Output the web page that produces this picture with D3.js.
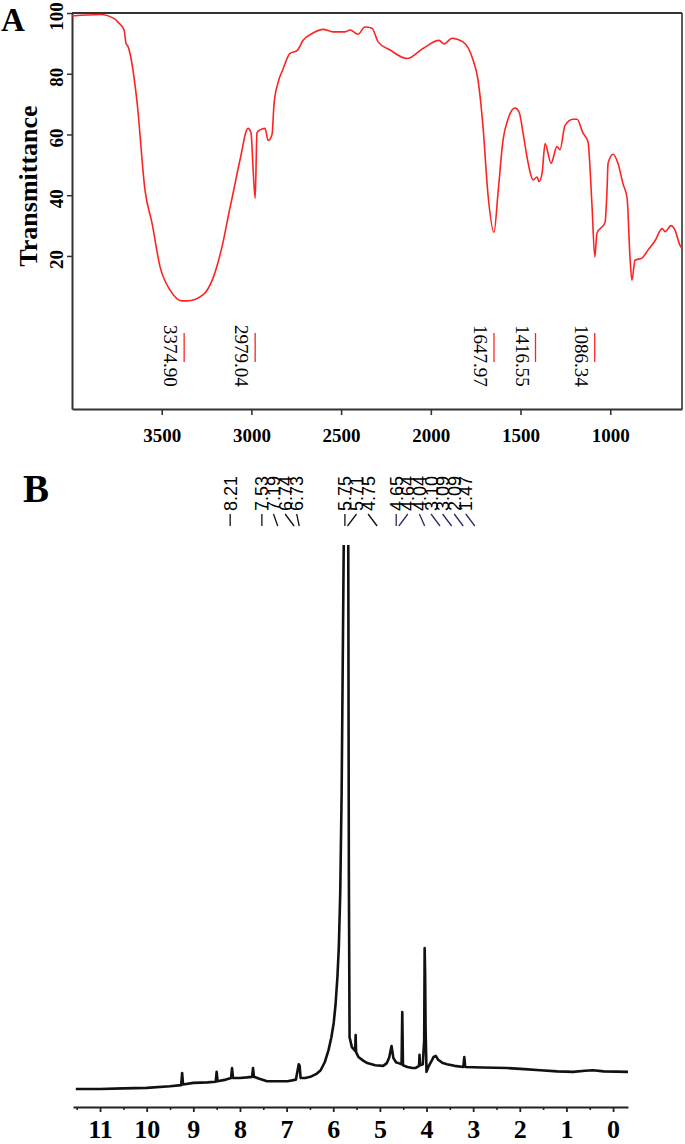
<!DOCTYPE html>
<html>
<head>
<meta charset="utf-8">
<script src="https://cdn.jsdelivr.net/npm/d3@7"></script>
<style>
  body { margin: 0; background: #fff; }
  svg { display: block; }
</style>
</head>
<body>
<script>
// ---- data ----

// panel A : FT-IR spectrum
var irWavenumber = [4000, 3844, 3760, 3744, 3710, 3699, 3688, 3638, 3593, 3554, 3509, 3454, 3387, 3359, 3270, 3214, 3164, 3119, 3108, 3064, 3019, 3002, 2991, 2979, 2969, 2952, 2924, 2907, 2885, 2874, 2852, 2824, 2785, 2746, 2712, 2657, 2601, 2545, 2478, 2450, 2406, 2367, 2328, 2294, 2227, 2133, 2044, 1954, 1926, 1882, 1821, 1765, 1737, 1709, 1681, 1648, 1625, 1598, 1570, 1531, 1508, 1486, 1464, 1447, 1430, 1408, 1397, 1380, 1363, 1330, 1297, 1280, 1252, 1207, 1185, 1152, 1124, 1102, 1086, 1074, 1029, 1018, 1012, 984, 957, 929, 906, 890, 879, 862, 823, 789, 750, 711, 694, 661, 639, 611, 600];
var irTransmittance = [99, 99.5, 98, 97, 94.5, 90, 89, 71, 41.6, 30.8, 16.4, 8.8, 5.2, 5.2, 7.2, 12.7, 23, 36, 39, 51.5, 62, 60.5, 49, 39, 60.5, 61.5, 62, 58, 60, 70, 77, 81.5, 86.7, 87.6, 91, 93.4, 94.6, 93.8, 93.8, 94.4, 93, 95.4, 95, 90.5, 87.8, 85, 88.3, 91, 89.8, 91.7, 90.5, 84.6, 78, 62.5, 40, 27.8, 41, 58, 65, 68.7, 67.4, 60.5, 52.6, 47.7, 45, 46, 44.5, 47.2, 57, 50.5, 56, 55, 63, 65, 65, 60.5, 57.6, 37, 19.7, 27.5, 31, 41.6, 50.5, 53.5, 50.5, 43.8, 39, 19.7, 12, 18.6, 19.3, 22, 25, 29, 28, 30, 28.5, 23.5, 22.5];
var irPeaks = [3374.90, 2979.04, 1647.97, 1416.55, 1086.34];
var irXTicks = [3500, 3000, 2500, 2000, 1500, 1000];
var irYTicks = [20, 40, 60, 80, 100];

// panel B : 1H NMR spectrum
var nmrPpm = [11.52, 11.0, 10.5, 10.0, 9.5, 9.26, 9.24, 9.22, 9.0, 8.7, 8.52, 8.50, 8.48, 8.3, 8.19, 8.17, 8.15, 8.0, 7.85, 7.74, 7.72, 7.70, 7.6, 7.42, 7.2, 6.98, 6.80, 6.74, 6.72, 6.70, 6.6, 6.49, 6.35, 6.27, 6.18, 6.10, 6.04, 5.99, 5.95, 5.91, 5.88, 5.85, 5.82, 5.79, 5.76, 5.73, 5.70, 5.68, 5.665, 5.65, 5.60, 5.53, 5.52, 5.51, 5.46, 5.35, 5.27, 5.1, 4.93, 4.85, 4.80, 4.75, 4.71, 4.65, 4.60, 4.535, 4.52, 4.505, 4.41, 4.30, 4.24, 4.16, 4.15, 4.14, 4.08, 4.05, 4.04, 4.03, 4.02, 4.00, 3.95, 3.88, 3.85, 3.80, 3.75, 3.65, 3.56, 3.40, 3.21, 3.19, 3.17, 2.8, 2.27, 1.9, 1.56, 1.2, 0.86, 0.6, 0.43, 0.2, -0.32];
var nmrIntensity = [1.1, 1.1, 1.2, 1.3, 1.6, 1.8, 4.0, 1.9, 2.2, 2.3, 2.4, 4.2, 2.5, 2.8, 3.1, 4.9, 3.1, 3.1, 3.2, 3.3, 4.9, 3.3, 3.0, 2.5, 2.5, 2.5, 2.8, 5.6, 5.3, 3.1, 3.1, 3.3, 3.9, 4.5, 6, 8.2, 10.5, 13.1, 16.5, 21.5, 27, 36.7, 55, 85, 115, 125, 115, 110, 40, 10.5, 8.7, 8.0, 10.9, 7.8, 6.9, 6.2, 5.8, 5.4, 5.3, 5.8, 6.8, 8.9, 6.7, 5.9, 5.8, 5.6, 15.1, 5.4, 5.1, 4.9, 4.9, 5.3, 7.3, 5.4, 5.6, 10, 26.7, 22, 12, 4.2, 5.3, 6.4, 6.9, 7.1, 6.4, 5.8, 5.6, 5.3, 5.1, 6.9, 5.1, 5.0, 4.9, 4.7, 4.5, 4.3, 4.2, 4.4, 4.5, 4.3, 4.2];
// peak picking labels, in the groups the software stacked them
var nmrLabelGroups = [[8.21], [7.53, 7.19, 6.74, 6.73], [5.75, 5.71, 4.75], [4.65, 4.64, 4.04, 3.10, 3.09, 2.09, 1.47]];
var nmrMajorTicks = [0, 1, 2, 3, 4, 5, 6, 7, 8, 9, 10, 11];
var nmrMinorTicks = [0.5, 1.5, 2.5, 3.5, 4.5, 5.5, 6.5, 7.5, 8.5, 9.5, 10.5, 11.5];

var serif = "'Liberation Serif', 'Times New Roman', serif";
var sans = "'Liberation Sans', Arial, sans-serif";

var svg = d3.select("body").append("svg")
    .attr("width", 685)
    .attr("height", 1144);

// ================= panel A =================
var xA = d3.scaleLinear().domain([4000, 600]).range([72, 682]);
var yA = d3.scaleLinear().domain([-30.4, 100]).range([409, 13]);

var plotA = svg.append("g").attr("id", "panel-a");

// frame top + right
plotA.append("line")
    .attr("x1", xA(4000)).attr("x2", xA(600))
    .attr("y1", yA(100)).attr("y2", yA(100))
    .attr("stroke", "#333").attr("stroke-width", 2);
plotA.append("line")
    .attr("x1", xA(600)).attr("x2", xA(600))
    .attr("y1", yA(100)).attr("y2", yA(-30.4))
    .attr("stroke", "#333").attr("stroke-width", 1.6);

// x axis
var xAxisA = plotA.append("g")
    .attr("transform", "translate(0," + yA(-30.4) + ")")
    .call(d3.axisBottom(xA).tickValues(irXTicks).tickSize(6).tickSizeOuter(0).tickPadding(14).tickFormat(d3.format("d")));
xAxisA.select(".domain").attr("stroke", "#333").attr("stroke-width", 2);
xAxisA.selectAll(".tick line").attr("stroke", "#333").attr("stroke-width", 1.6);
xAxisA.selectAll("text")
    .style("font-family", serif).style("font-size", "19px").style("font-weight", "bold").attr("fill", "#000");

// y axis, labels turned on their side
var yAxisA = plotA.append("g")
    .attr("transform", "translate(" + xA(4000) + ",0)")
    .call(d3.axisLeft(yA).tickValues(irYTicks).tickSize(5).tickSizeOuter(0));
yAxisA.select(".domain").attr("stroke", "#333").attr("stroke-width", 2);
yAxisA.selectAll(".tick line").attr("stroke", "#333").attr("stroke-width", 1.5);
yAxisA.selectAll("text")
    .attr("x", 0).attr("dy", 0)
    .attr("text-anchor", "middle")
    .attr("transform", "translate(-9,3) rotate(-90)")
    .style("font-family", serif).style("font-size", "19px").style("font-weight", "bold").attr("fill", "#000");

// axis title
plotA.append("text")
    .attr("transform", "translate(37,186) rotate(-90)")
    .attr("text-anchor", "middle")
    .style("font-family", serif).style("font-size", "26px").style("font-weight", "bold")
    .text("Transmittance");

// the spectrum
var irPoints = irWavenumber.map(function(w, i) { return {w: w, t: irTransmittance[i]}; });
var irLine = d3.line()
    .x(function(d) { return xA(d.w); })
    .y(function(d) { return yA(d.t); })
    .curve(d3.curveMonotoneX);
plotA.append("path")
    .datum(irPoints)
    .attr("d", irLine)
    .attr("fill", "none")
    .attr("stroke", "#ff2222")
    .attr("stroke-width", 1.6)
    .attr("stroke-linejoin", "round");

// peak markers with their wavenumbers
irPeaks.forEach(function(p) {
    plotA.append("line")
        .attr("x1", xA(p)).attr("x2", xA(p))
        .attr("y1", 333).attr("y2", 362)
        .attr("stroke", "#ff2222").attr("stroke-width", 1.3);
    plotA.append("text")
        .attr("transform", "translate(" + (xA(p) - 20) + ",325) rotate(90)")
        .attr("text-anchor", "start")
        .style("font-family", serif).style("font-size", "19px")
        .text(p.toFixed(2));
});

// panel letter
svg.append("text")
    .attr("x", 1).attr("y", 31)
    .style("font-family", serif).style("font-size", "33px").style("font-weight", "bold")
    .text("A");

// ================= panel B =================
var xB = d3.scaleLinear().domain([11.58, -0.32]).range([73, 628]);
var yB = d3.scaleLinear().domain([0, 100]).range([1095, 545]);

var plotB = svg.append("g").attr("id", "panel-b");

plotB.append("clipPath").attr("id", "clip-b")
    .append("rect")
    .attr("x", 40).attr("y", yB(100))
    .attr("width", 620).attr("height", yB(0) - yB(100) + 20);

var nmrPoints = nmrPpm.map(function(p, i) { return {p: p, v: nmrIntensity[i]}; });
var nmrLine = d3.line()
    .x(function(d) { return xB(d.p); })
    .y(function(d) { return yB(d.v); });
plotB.append("path")
    .datum(nmrPoints)
    .attr("clip-path", "url(#clip-b)")
    .attr("d", nmrLine)
    .attr("fill", "none")
    .attr("stroke", "#111")
    .attr("stroke-width", 2.6)
    .attr("stroke-linejoin", "round");

// minor ticks first, then the major axis on top
var minorB = plotB.append("g")
    .attr("transform", "translate(0,1107)")
    .call(d3.axisBottom(xB).tickValues(nmrMinorTicks).tickSize(3).tickSizeOuter(0).tickFormat(""));
minorB.select(".domain").remove();
minorB.selectAll(".tick line").attr("stroke", "#222").attr("stroke-width", 1.6);

var xAxisB = plotB.append("g")
    .attr("transform", "translate(0,1107)")
    .call(d3.axisBottom(xB).tickValues(nmrMajorTicks).tickSize(5).tickSizeOuter(0).tickPadding(8));
xAxisB.select(".domain").attr("stroke", "#222").attr("stroke-width", 2);
xAxisB.selectAll(".tick line").attr("stroke", "#222").attr("stroke-width", 1.8);
xAxisB.selectAll("text")
    .style("font-family", serif).style("font-size", "26px").style("font-weight", "bold").attr("fill", "#000");

// peak labels: each group starts at its first peak and is spread sideways,
// short connector strokes lean toward the peak
var labelGap = 11.6;
nmrLabelGroups.forEach(function(group, g) {
    var x0 = xB(group[0]);
    group.forEach(function(p, i) {
        var lx = x0 + i * labelGap;
        var lean = Math.max(-9, Math.min(9, xB(p) - lx));
        plotB.append("line")
            .attr("x1", lx).attr("y1", 514)
            .attr("x2", lx + lean).attr("y2", 526)
            .attr("stroke", g == 3 ? "#2a2a6a" : "#111").attr("stroke-width", 1.3);
        plotB.append("text")
            .attr("transform", "translate(" + (lx + 6.5) + ",511) rotate(-90)")
            .attr("text-anchor", "start")
            .style("font-family", sans).style("font-size", "18px")
            .text(p.toFixed(2));
    });
});

// panel letter
svg.append("text")
    .attr("x", 23).attr("y", 502)
    .style("font-family", serif).style("font-size", "39px").style("font-weight", "bold")
    .text("B");
</script>
</body>
</html>
